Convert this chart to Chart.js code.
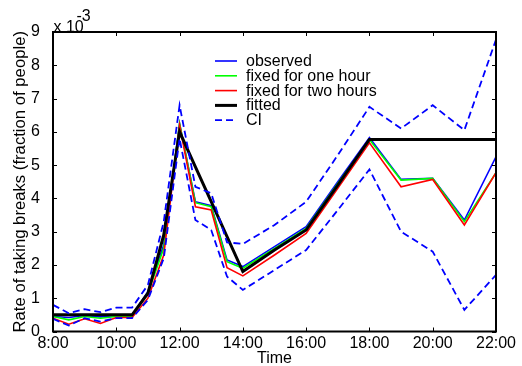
<!DOCTYPE html>
<html><head><meta charset="utf-8">
<script src="https://cdn.jsdelivr.net/npm/chart.js@4/dist/chart.umd.min.js"></script>
<style>html,body{margin:0;padding:0;background:#fff}#wrap{width:522px;height:366px;position:relative}</style>
</head><body><div id="wrap"><canvas id="c"></canvas></div>
<script>
// Time of day in hours
const times = [8, 8.5, 9, 9.5, 10, 10.5, 11, 11.5, 12, 12.5, 13, 13.5, 14, 15, 16, 17, 18, 19, 20, 21, 22];
// Rates in units of 1e-3
const observed = [0.45, 0.42, 0.48, 0.44, 0.48, 0.48, 1.2, 2.6, 6.25, 3.9, 3.78, 2.15, 1.95, 2.55, 3.15, 4.5, 5.83, 4.57, 4.6, 3.35, 5.25];
const fixedOneHour = [0.45, 0.35, 0.45, 0.4, 0.45, 0.45, 1.15, 2.5, 6.25, 3.87, 3.75, 2.1, 1.9, 2.5, 3.1, 4.45, 5.77, 4.55, 4.6, 3.3, 4.77];
const fixedTwoHours = [0.4, 0.22, 0.38, 0.24, 0.42, 0.42, 1.0, 2.3, 6.2, 3.75, 3.65, 1.92, 1.67, 2.3, 2.95, 4.3, 5.67, 4.35, 4.57, 3.2, 4.77];
const fitted = [0.5, 0.5, 0.5, 0.5, 0.5, 0.5, 1.15, 2.9, 6.0, 4.95, 3.9, 2.85, 1.8, 2.45, 3.05, 4.4, 5.77, 5.77, 5.77, 5.77, 5.77];
const ciUpper = [0.8, 0.55, 0.67, 0.58, 0.72, 0.72, 1.4, 3.3, 6.8, 4.35, 4.15, 2.68, 2.63, 3.2, 3.9, 5.3, 6.75, 6.1, 6.8, 6.05, 8.77];
const ciLower = [0.38, 0.18, 0.4, 0.3, 0.4, 0.4, 0.95, 2.2, 5.8, 3.35, 3.05, 1.65, 1.25, 1.85, 2.45, 3.65, 4.87, 3.0, 2.4, 0.65, 1.7];
const xTickValues = [8, 10, 12, 14, 16, 18, 20, 22];
const xTickLabels = ['8:00', '10:00', '12:00', '14:00', '16:00', '18:00', '20:00', '22:00'];
const yTickValues = [0, 1, 2, 3, 4, 5, 6, 7, 8, 9];
const seriesNames = ['observed', 'fixed for one hour', 'fixed for two hours', 'fitted', 'CI'];

const FONT = "'Liberation Sans', Arial, sans-serif";
const pts = arr => arr.map((v, i) => ({x: times[i], y: v}));

const frame = {
  id: 'frame',
  afterDatasetsDraw(chart) {
    const {ctx, chartArea: a, scales: {x, y}} = chart;
    ctx.save();
    ctx.strokeStyle = '#000';
    ctx.lineWidth = 2;
    ctx.strokeRect(a.left, a.top, a.right - a.left, a.bottom - a.top);
    ctx.lineWidth = 1;
    const tl = 4;
    ctx.beginPath();
    xTickValues.forEach(v => {
      const px = Math.round(x.getPixelForValue(v)) + 0.5;
      ctx.moveTo(px, a.bottom); ctx.lineTo(px, a.bottom - tl);
      ctx.moveTo(px, a.top); ctx.lineTo(px, a.top + tl);
    });
    yTickValues.forEach(v => {
      const py = Math.round(y.getPixelForValue(v)) + 0.5;
      ctx.moveTo(a.left, py); ctx.lineTo(a.left + tl, py);
      ctx.moveTo(a.right, py); ctx.lineTo(a.right - tl, py);
    });
    ctx.stroke();
    // offset text
    ctx.fillStyle = '#000';
    ctx.font = '16px ' + FONT;
    ctx.textBaseline = 'alphabetic';
    ctx.textAlign = 'left';
    ctx.fillText('x 10', 53.5, 32.3);
    ctx.fillText('-3', 76.5, 20.7);
    // legend
    const x0 = 215, x1 = 237, tx = 246, y0 = 61, dy = 14.8;
    const ds = chart.data.datasets;
    seriesNames.forEach((name, i) => {
      const d = ds[i];
      const yy = y0 + i * dy;
      ctx.beginPath();
      ctx.strokeStyle = d.borderColor;
      ctx.lineWidth = d.borderWidth;
      ctx.setLineDash(d.borderDash || []);
      ctx.moveTo(x0, yy); ctx.lineTo(x1, yy);
      ctx.stroke();
      ctx.setLineDash([]);
      ctx.fillStyle = '#000';
      ctx.textBaseline = 'middle';
      ctx.fillText(name, tx, yy + 0.5);
    });
    ctx.restore();
  }
};

const mk = (label, data, color, width, order, dash) => ({
  label, data: pts(data), borderColor: color, backgroundColor: color,
  borderWidth: width, borderDash: dash || [], pointRadius: 0, tension: 0, fill: false, order
});

new Chart(document.getElementById('c'), {
  type: 'line',
  data: {
    datasets: [
      mk(seriesNames[0], observed, '#0000ff', 1.6, 6),
      mk(seriesNames[1], fixedOneHour, '#00ff00', 1.6, 5),
      mk(seriesNames[2], fixedTwoHours, '#ff0000', 1.6, 4),
      mk(seriesNames[3], fitted, '#000000', 3, 3),
      mk(seriesNames[4], ciUpper, '#0000ff', 1.8, 2, [7, 4]),
      mk(seriesNames[4] + ' lower', ciLower, '#0000ff', 1.8, 1, [7, 4])
    ]
  },
  options: {
    responsive: true, maintainAspectRatio: false, animation: false,
    layout: {padding: {top: 32, right: 26, left: 0, bottom: 0}},
    plugins: {legend: {display: false}, tooltip: {enabled: false}},
    scales: {
      x: {
        type: 'linear', min: 8, max: 22,
        afterFit: s => { s.height = 34.5; },
        afterBuildTicks: s => { s.ticks = xTickValues.map(v => ({value: v})); },
        grid: {display: false}, border: {display: false},
        ticks: {
          callback: v => xTickLabels[xTickValues.indexOf(v)],
          font: {size: 16, family: FONT}, color: '#000', padding: -6, maxRotation: 0, autoSkip: false
        },
        title: {display: true, text: 'Time', font: {size: 16, family: FONT, lineHeight: 1}, color: '#000', padding: {bottom: -1}}
      },
      y: {
        min: 0, max: 9,
        afterFit: s => { s.width = 53; },
        afterBuildTicks: s => { s.ticks = yTickValues.map(v => ({value: v})); },
        grid: {display: false}, border: {display: false},
        ticks: {font: {size: 16, family: FONT}, color: '#000', padding: 5},
        title: {display: true, text: 'Rate of taking breaks (fraction of people)', font: {size: 16.7, family: FONT}, color: '#000', padding: {top: 10, bottom: 0}}
      }
    }
  },
  plugins: [frame]
});
</script></body></html>
